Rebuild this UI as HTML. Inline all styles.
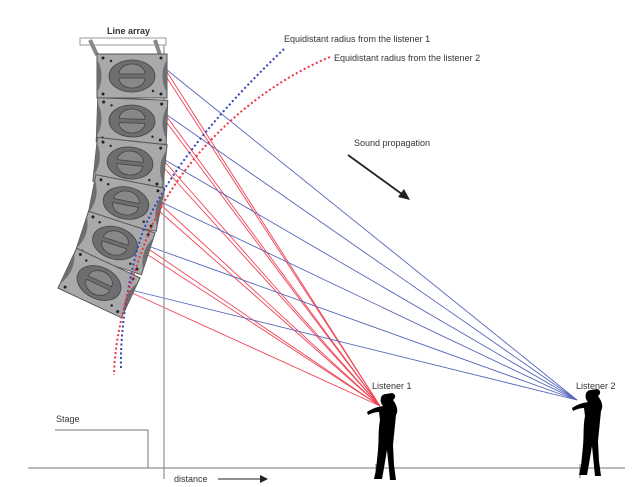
<!DOCTYPE html>
<html><head><meta charset="utf-8"><style>
html,body{margin:0;padding:0;background:#fff;width:636px;height:487px;overflow:hidden}
svg{display:block}
text{font-family:"Liberation Sans",sans-serif;fill:#333}
</style></head><body>
<svg width="636" height="487" viewBox="0 0 636 487" xmlns="http://www.w3.org/2000/svg">
<defs>
<g id="box">
 <path d="M-35,-22 L35,-22 L35,22 L-35,22 Z" fill="#a9a9ab" stroke="#555" stroke-width="1"/>
 <ellipse cx="0" cy="0" rx="23" ry="16" fill="#6e6e70" stroke="#444" stroke-width="0.8"/>
 <path d="M-13,-2 A13,10 0 0 1 13,-2 Z M-13,2 A13,10 0 0 0 13,2 Z" fill="#888" stroke="#444" stroke-width="0.8"/>
 <path d="M-35,-17 Q-26,0 -35,17 Z" fill="#6e6e70"/>
 <path d="M35,-17 Q26,0 35,17 Z" fill="#6e6e70"/>
 <circle cx="-29" cy="-18" r="1.5" fill="#222"/><circle cx="29" cy="-18" r="1.5" fill="#222"/>
 <circle cx="-29" cy="18" r="1.5" fill="#222"/><circle cx="29" cy="18" r="1.5" fill="#222"/>
 <circle cx="-21" cy="-15" r="1.2" fill="#222"/><circle cx="21" cy="15" r="1.2" fill="#222"/>
</g>
<g id="person">
 <path d="M386,394 C380,394 379,402 383,406 L378,407 C374,408 370,410 367,412 L368,415 C372,413 376,412 379,412 L380,420 C378,430 379,440 378,450 L376,470 L374,479 L382,479 L384,468 L387,450 L389,470 L390,480 L396,480 L394,465 L393,445 L395,425 L396,415 C399,410 396,404 393,400 C396,398 396,394 392,393 Z" fill="#000"/>
 <ellipse cx="389" cy="404" rx="5" ry="6" fill="#000"/>
</g>
</defs>

<g stroke-width="0.9" fill="none">
 <g stroke="#ee4455">
  <line x1="167" y1="72" x2="380" y2="406"/><line x1="167" y1="78" x2="380" y2="406"/>
  <line x1="167" y1="117" x2="380" y2="406"/><line x1="167" y1="123" x2="380" y2="406"/>
  <line x1="165" y1="162" x2="380" y2="406"/><line x1="164" y1="168" x2="380" y2="406"/>
  <line x1="160" y1="204" x2="380" y2="406"/><line x1="158" y1="210" x2="380" y2="406"/>
  <line x1="147" y1="248" x2="380" y2="406"/><line x1="145" y1="253" x2="380" y2="406"/>
  <line x1="130" y1="292" x2="380" y2="406"/>
 </g>
 <g stroke="#5566bb">
  <line x1="167" y1="70" x2="577" y2="400"/><line x1="167" y1="115" x2="577" y2="400"/>
  <line x1="165" y1="160" x2="577" y2="400"/><line x1="161" y1="202" x2="577" y2="400"/>
  <line x1="148" y1="246" x2="577" y2="400"/><line x1="131" y1="290" x2="577" y2="400"/>
 </g>
</g>

<line x1="164" y1="40" x2="164" y2="479" stroke="#999" stroke-width="1.3"/>

<rect x="80" y="38" width="86" height="7" fill="#fff" stroke="#999" stroke-width="1"/>
<path d="M90,40 L97,55 M155,40 L160,55" stroke="#888" stroke-width="4"/>
<use href="#box" transform="translate(132,76) rotate(0)"/>
<use href="#box" transform="translate(132,121) rotate(2)"/>
<use href="#box" transform="translate(130,163) rotate(6)"/>
<use href="#box" transform="translate(126,203) rotate(11)"/>
<use href="#box" transform="translate(115,243) rotate(18)"/>
<use href="#box" transform="translate(99,283) rotate(25)"/>

<path d="M284,49 C220,110 160,180 140,240 C128,280 120,330 121,368" fill="none" stroke="#3344bb" stroke-width="2" stroke-dasharray="2,2.5"/>
<path d="M330,57 C250,90 180,160 150,230 C130,280 115,330 114,375" fill="none" stroke="#ee3344" stroke-width="2" stroke-dasharray="2,2.5"/>

<line x1="28" y1="468" x2="625" y2="468" stroke="#777" stroke-width="1"/>
<polyline points="55,430 148,430 148,468" fill="none" stroke="#777" stroke-width="1"/>
<line x1="376" y1="464" x2="376" y2="478" stroke="#777"/>
<line x1="580" y1="464" x2="580" y2="478" stroke="#777"/>

<use href="#person"/>
<use href="#person" transform="translate(205,-4)"/>

<line x1="348" y1="155" x2="406" y2="197" stroke="#222" stroke-width="1.8"/>
<path d="M410,200 L398,197 L404,189 Z" fill="#222"/>
<line x1="218" y1="479" x2="262" y2="479" stroke="#222" stroke-width="1"/>
<path d="M268,479 L260,475 L260,483 Z" fill="#222"/>

<text x="107" y="34" font-size="9" font-weight="bold" fill="#111">Line array</text>
<text x="284" y="42" font-size="9">Equidistant radius from the listener 1</text>
<text x="334" y="61" font-size="9">Equidistant radius from the listener 2</text>
<text x="354" y="146" font-size="9">Sound propagation</text>
<text x="372" y="389" font-size="9">Listener 1</text>
<text x="576" y="389" font-size="9">Listener 2</text>
<text x="56" y="422" font-size="9">Stage</text>
<text x="174" y="482" font-size="9">distance</text>
</svg>
</body></html>
